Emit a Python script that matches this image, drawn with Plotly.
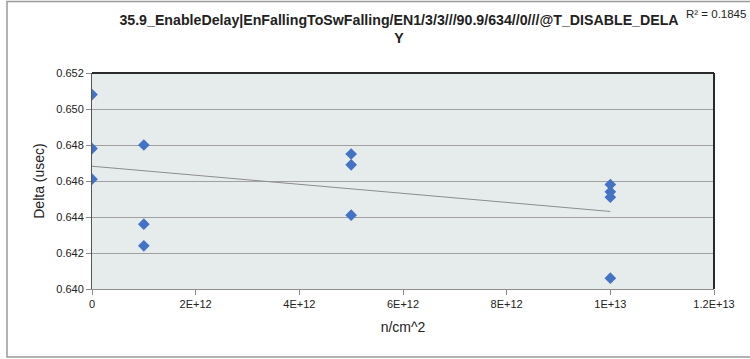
import numpy as np
import plotly.graph_objects as go

# data
fluence = [0, 0, 0, 1e12, 1e12, 1e12, 5e12, 5e12, 5e12, 1e13, 1e13, 1e13, 1e13]
delta = [0.6508, 0.6478, 0.6461, 0.6480, 0.6436, 0.6424, 0.6475, 0.6469, 0.6441,
         0.6458, 0.6454, 0.6451, 0.6406]
x_tickvals = [0, 2e12, 4e12, 6e12, 8e12, 1e13, 1.2e13]
x_ticktext = ["0", "2E+12", "4E+12", "6E+12", "8E+12", "1E+13", "1.2E+13"]
y_tickvals = [0.640, 0.642, 0.644, 0.646, 0.648, 0.650, 0.652]
title_text = "35.9_EnableDelay|EnFallingToSwFalling/EN1/3/3///90.9/634//0///@T_DISABLE_DELA<br>Y"
r2_text = "R² = 0.1845"

# linear trend
xa = np.array(fluence)
ya = np.array(delta)
slope, intercept = np.polyfit(xa, ya, 1)
tx = np.array([xa.min(), xa.max()])
ty = slope * tx + intercept

FONT = "Liberation Sans Narrow, Liberation Sans, sans-serif"

fig = go.Figure()
fig.add_trace(go.Scatter(x=list(tx), y=list(ty), mode="lines",
                         line=dict(color="#8c8c8c", width=1), showlegend=False,
                         hoverinfo="skip"))
fig.add_trace(go.Scatter(x=fluence, y=delta, mode="markers",
                         marker=dict(symbol="diamond", size=9, color="#4472C4"),
                         showlegend=False))

W, H = 750, 359
ml, mr, mt, mb = 92, 36, 73, 70
pw, ph = W - ml - mr, H - mt - mb

def px2paper_x(px):
    return (px - ml) / pw

def px2paper_y(py):
    return (H - mb - py) / ph

fig.update_layout(
    width=W, height=H,
    margin=dict(l=ml, r=mr, t=mt, b=mb, autoexpand=False),
    paper_bgcolor="white",
    plot_bgcolor="#E6ECEC",
    font=dict(family=FONT, size=11, color="#222222"),
    title=dict(text="<b>" + title_text + "</b>", x=0.532, xanchor="center",
               y=1 - 25 / H, yanchor="middle",
               font=dict(family=FONT, size=14.2, color="#222222")),
    xaxis=dict(range=[0, 1.2e13], tickvals=x_tickvals, ticktext=x_ticktext,
               automargin=False,
               showgrid=False, zeroline=False, showline=True, linecolor="#8c8c8c",
               linewidth=1, ticks="outside", ticklen=5, tickcolor="#8c8c8c",
               tickfont=dict(size=11),
               title=dict(text="n/cm^2", font=dict(size=14), standoff=12)),
    yaxis=dict(range=[0.640, 0.652], tickvals=y_tickvals, tickformat=".3f",
               automargin=False,
               showgrid=True, gridcolor="#a0a0a0", gridwidth=1, zeroline=False,
               showline=True, linecolor="#555555", linewidth=1,
               ticks="outside", ticklen=5, tickcolor="#8c8c8c",
               tickfont=dict(size=11),
               title=dict(text="Delta (usec)", font=dict(size=14), standoff=8)),
    shapes=[
        # plot area top & right dark border
        dict(type="line", xref="paper", yref="paper", x0=0, x1=1, y0=1, y1=1,
             line=dict(color="#2a2a2a", width=2)),
        dict(type="line", xref="paper", yref="paper", x0=1, x1=1, y0=0, y1=1,
             line=dict(color="#2a2a2a", width=2)),
        # outer chart border
        dict(type="rect", xref="paper", yref="paper",
             x0=px2paper_x(7), x1=px2paper_x(760),
             y0=px2paper_y(357), y1=px2paper_y(1.5),
             line=dict(color="#9a9a9a", width=1.5), layer="below"),
    ],
    annotations=[
        dict(text=r2_text, xref="paper", yref="paper",
             x=px2paper_x(748), y=px2paper_y(14), xanchor="right", yanchor="middle",
             showarrow=False, font=dict(family=FONT, size=11.5, color="#222222")),
    ],
)

fig.write_html(
    "out.html",
    config={"displayModeBar": False},
    post_script="document.body.style.margin='0';document.body.style.overflow='hidden';",
)
